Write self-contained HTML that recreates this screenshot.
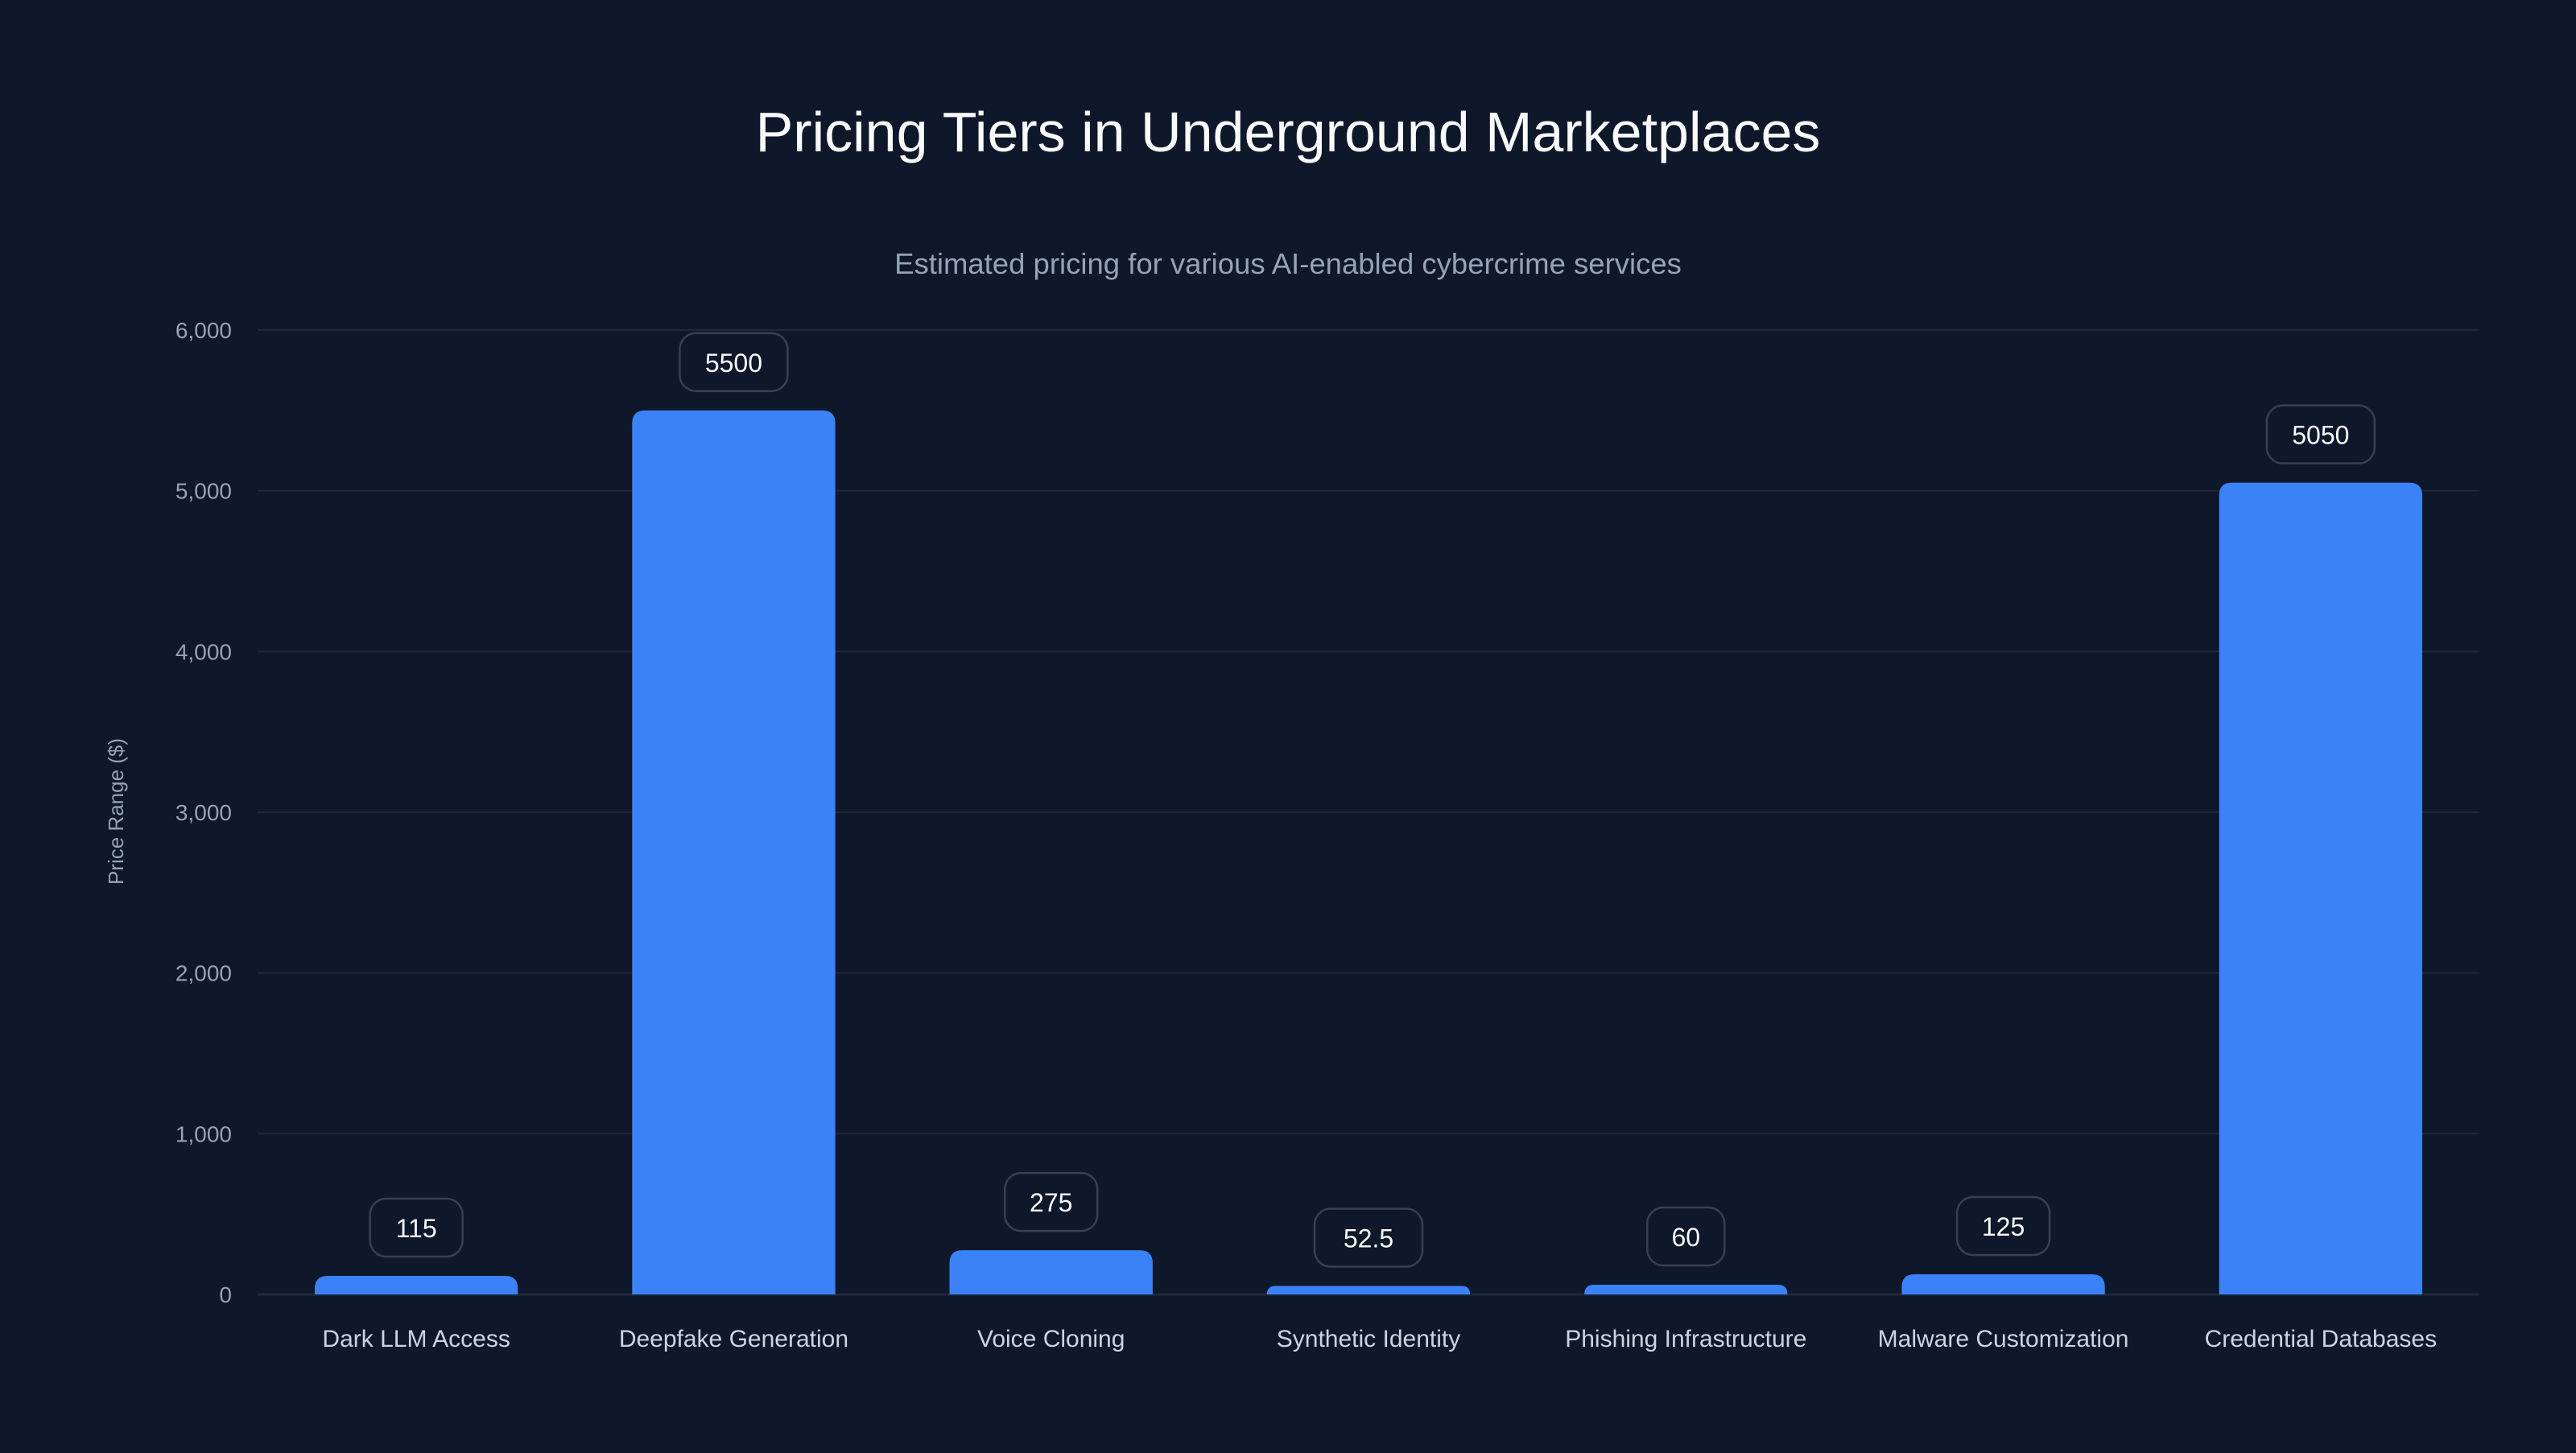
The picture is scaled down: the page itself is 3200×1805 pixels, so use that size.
<!DOCTYPE html>
<html><head><meta charset="utf-8"><style>
html,body{margin:0;padding:0;background:#0f172a;}
body{width:3200px;height:1800px;overflow:hidden;font-family:"Liberation Sans",sans-serif;}
</style></head><body>
<svg width="3200" height="1800" xmlns="http://www.w3.org/2000/svg">
<rect width="3200" height="1800" fill="#0f172a"/>
<text x="1600" y="188" text-anchor="middle" fill="#f8fafc" font-size="70" font-family="Liberation Sans, sans-serif">Pricing Tiers in Underground Marketplaces</text>
<text x="1600" y="340" text-anchor="middle" fill="#94a3b8" font-size="36.5" font-family="Liberation Sans, sans-serif">Estimated pricing for various AI-enabled cybercrime services</text>
<text transform="translate(153,1008) rotate(-90)" text-anchor="middle" fill="#94a3b8" font-size="26" font-family="Liberation Sans, sans-serif">Price Range ($)</text>
<g id="grid"></g><g id="bars"></g>
</svg>
<script>
const categories=["Dark LLM Access","Deepfake Generation","Voice Cloning","Synthetic Identity","Phishing Infrastructure","Malware Customization","Credential Databases"];
const values=[115,5500,275,52.5,60,125,5050];
const valueLabels=["115","5500","275","52.5","60","125","5050"];
const yTicks=[0,1000,2000,3000,4000,5000,6000];
const yTickLabels=["0","1,000","2,000","3,000","4,000","5,000","6,000"];
const NS="http://www.w3.org/2000/svg";
const L=320,R=3080,T=410,B=1608,YMAX=6000;
const y=v=>B-(v/YMAX)*(B-T);
const band=(R-L)/categories.length;
const x=i=>L+band*(i+0.5);
function mk(tag,attrs,parent){const e=document.createElementNS(NS,tag);for(const k in attrs)e.setAttribute(k,attrs[k]);parent.appendChild(e);return e;}
const grid=document.getElementById('grid'),bars=document.getElementById('bars');
yTicks.forEach((t,i)=>{
  const ln=mk('line',{x1:L,x2:R,y1:y(t),y2:y(t),stroke:'#1e293b','stroke-width':t===0?3:2},grid);
  
  
  const tx=mk('text',{x:288,y:y(t)+10,'text-anchor':'end',fill:'#94a3b8','font-size':28,'font-family':'Liberation Sans, sans-serif'},grid);
  tx.textContent=yTickLabels[i];
  
  
});
const bw=band*0.64;
categories.forEach((c,i)=>{
  const top=y(values[i]),h=B-top,r=Math.min(16,h);
  const p=mk('path',{d:`M${x(i)-bw/2},${B} V${top+r} Q${x(i)-bw/2},${top} ${x(i)-bw/2+r},${top} H${x(i)+bw/2-r} Q${x(i)+bw/2},${top} ${x(i)+bw/2},${top+r} V${B} Z`,fill:'#3b82f6'},bars);
  
  
  const bwid=valueLabels[i].length*19+58;
  const box=mk('rect',{x:x(i)-bwid/2,y:top-96,width:bwid,height:72,rx:20,fill:'#0f172a',stroke:'#334155','stroke-width':2.5},bars);
  
  
  const vt=mk('text',{x:x(i),y:top-48,'text-anchor':'middle',fill:'#f8fafc','font-size':32,'font-family':'Liberation Sans, sans-serif'},bars);
  vt.textContent=valueLabels[i];
  
  
  const ct=mk('text',{x:x(i),y:1673,'text-anchor':'middle',fill:'#cbd5e1','font-size':30,'font-family':'Liberation Sans, sans-serif'},bars);
  ct.textContent=c;
  
  
});
</script>
</body></html>
